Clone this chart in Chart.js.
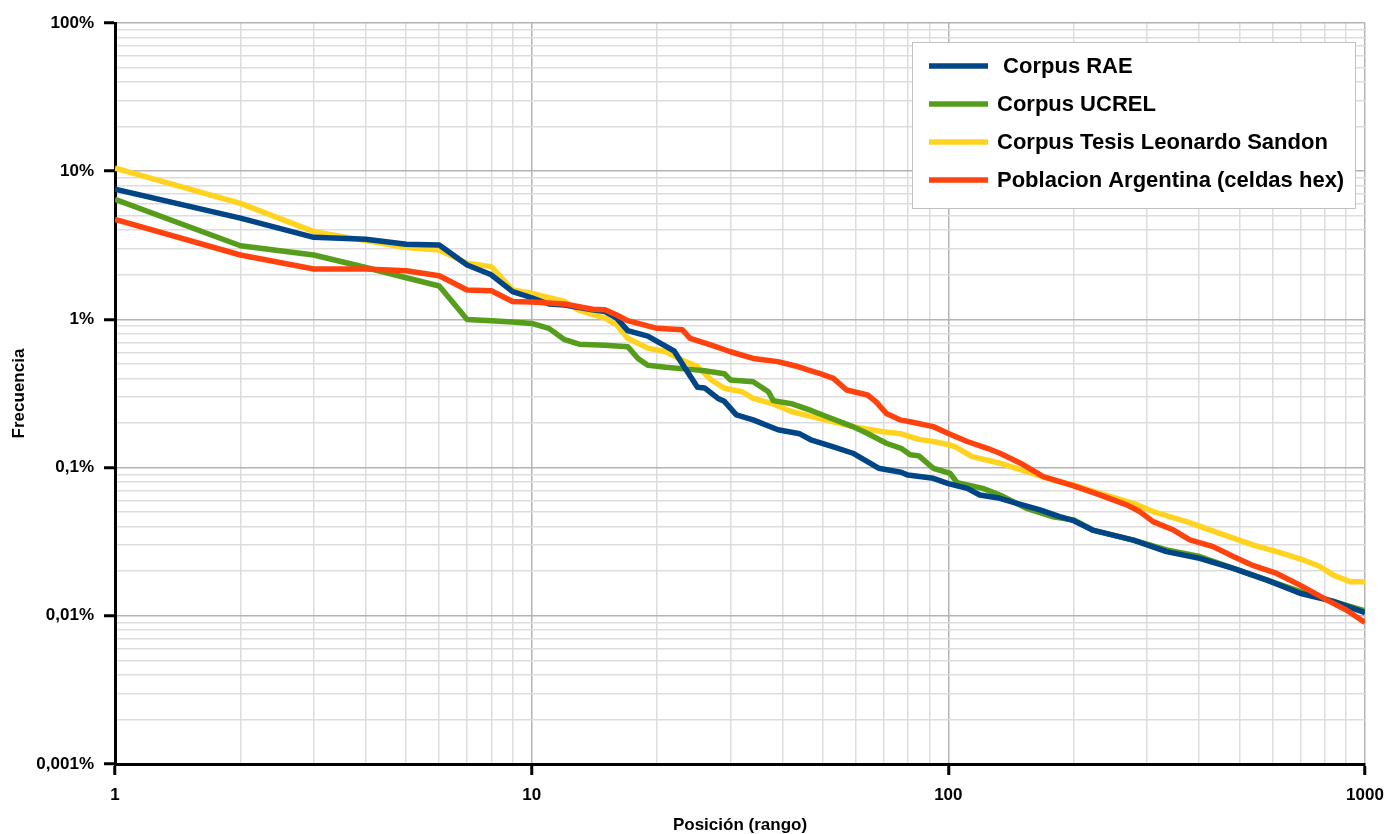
<!DOCTYPE html>
<html>
<head>
<meta charset="utf-8">
<script src="https://cdn.jsdelivr.net/npm/chart.js@4"></script>
<style>
  body { margin: 0; background: #fff; }
  canvas { display: block; }
</style>
</head>
<body>
<canvas id="grafico" width="1386" height="834"></canvas>
<script>
// series labels and colours (legend order)
const etiquetas = [' Corpus RAE', 'Corpus UCREL', 'Corpus Tesis Leonardo Sandon', 'Poblacion Argentina (celdas hex)'];
const colores = ['#004586', '#579d1c', '#ffd320', '#ff420e'];

// ticks
const xMajor = [1, 10, 100, 1000];
const xTickLabels = ['1', '10', '100', '1000'];
const yMajor = [0.001, 0.01, 0.1, 1, 10, 100];
const yTickLabels = ['0,001%', '0,01%', '0,1%', '1%', '10%', '100%'];

// Corpus RAE
const raeRango = [1, 2, 3, 4, 5, 6, 7, 8, 9, 10, 11, 12, 14, 15, 16, 17, 19, 20, 22, 23, 25, 26, 28, 29, 31, 34, 39, 44, 47, 53, 59, 68, 77, 80, 92, 100, 111, 119, 133, 146, 166, 185, 200, 222, 278, 334, 401, 483, 582, 698, 839, 1000];
const raeFrec = [7.55, 4.82, 3.58, 3.47, 3.21, 3.18, 2.33, 2.0, 1.54, 1.40, 1.27, 1.25, 1.16, 1.13, 1.02, 0.84, 0.77, 0.71, 0.61, 0.50, 0.348, 0.345, 0.293, 0.28, 0.227, 0.21, 0.18, 0.169, 0.153, 0.138, 0.125, 0.099, 0.093, 0.089, 0.0847, 0.078, 0.0724, 0.0653, 0.0621, 0.0574, 0.0518, 0.0467, 0.0438, 0.0379, 0.0324, 0.0271, 0.0244, 0.0209, 0.0174, 0.0142, 0.0125, 0.0105];

// Corpus UCREL
const ucrelRango = [1, 2, 3, 4, 5, 6, 7, 8, 9, 10, 11, 12, 13, 15, 17, 18, 19, 21, 24, 26, 29, 30, 34, 37, 38, 42, 47, 51, 59, 64, 71, 77, 81, 85, 92, 101, 105, 121, 133, 154, 178, 200, 222, 278, 334, 401, 483, 582, 698, 839, 1000];
const ucrelFrec = [6.46, 3.14, 2.72, 2.24, 1.91, 1.68, 1.00, 0.98, 0.96, 0.94, 0.87, 0.73, 0.68, 0.67, 0.655, 0.545, 0.49, 0.475, 0.46, 0.45, 0.43, 0.39, 0.38, 0.325, 0.283, 0.27, 0.242, 0.221, 0.189, 0.170, 0.146, 0.135, 0.122, 0.12, 0.099, 0.0914, 0.079, 0.0724, 0.0653, 0.0531, 0.0466, 0.0443, 0.0379, 0.0324, 0.0278, 0.0251, 0.0209, 0.0174, 0.0146, 0.0125, 0.0108];

// Corpus Tesis Leonardo Sandon
const tesisRango = [1, 2, 3, 4, 5, 6, 7, 8, 9, 10, 12, 13, 15, 16, 17, 19, 21, 23, 25, 27, 29, 32, 34, 38, 42, 49, 59, 69, 77, 85, 92, 101, 104, 114, 133, 154, 178, 200, 231, 278, 310, 373, 448, 540, 614, 711, 780, 839, 920, 1000];
const tesisFrec = [10.5, 6.07, 3.91, 3.40, 3.06, 2.94, 2.39, 2.27, 1.58, 1.50, 1.32, 1.15, 1.02, 0.917, 0.745, 0.64, 0.605, 0.53, 0.48, 0.39, 0.343, 0.325, 0.293, 0.269, 0.239, 0.215, 0.189, 0.175, 0.169, 0.155, 0.150, 0.142, 0.138, 0.1185, 0.107, 0.094, 0.0825, 0.0763, 0.067, 0.0574, 0.0505, 0.0432, 0.036, 0.030, 0.0271, 0.0238, 0.0215, 0.0188, 0.017, 0.017];

// Poblacion Argentina (celdas hex)
const pobRango = [1, 2, 3, 4, 5, 6, 7, 8, 9, 10, 12, 14, 15, 16, 17, 20, 23, 24, 27, 30, 34, 39, 43, 46, 49, 53, 57, 64, 67, 71, 77, 81, 92, 100, 111, 124, 133, 149, 169, 200, 231, 268, 288, 310, 347, 380, 432, 483, 540, 614, 698, 809, 904, 1000];
const pobFrec = [4.73, 2.72, 2.19, 2.19, 2.13, 1.97, 1.58, 1.56, 1.32, 1.31, 1.27, 1.17, 1.16, 1.07, 0.98, 0.87, 0.85, 0.745, 0.67, 0.605, 0.545, 0.519, 0.485, 0.456, 0.433, 0.40, 0.334, 0.309, 0.279, 0.232, 0.209, 0.204, 0.189, 0.170, 0.150, 0.135, 0.125, 0.107, 0.0869, 0.0752, 0.0654, 0.056, 0.0505, 0.0432, 0.0379, 0.0325, 0.0293, 0.0251, 0.0218, 0.0193, 0.0161, 0.0128, 0.0109, 0.0090];

const series = [
  [raeRango, raeFrec],
  [ucrelRango, ucrelFrec],
  [tesisRango, tesisFrec],
  [pobRango, pobFrec]
];
// drawing order: red on top, then blue
const orden = [1, 2, 3, 0];

const fuente = "'Liberation Sans', Arial, sans-serif";

const esMayor = (v) => Math.abs(Math.log10(v) - Math.round(Math.log10(v))) < 1e-9;

function marcasLog(min, max) {
  const out = [];
  for (let e = Math.round(Math.log10(min)); e < Math.round(Math.log10(max)); e++) {
    for (let s = 1; s < 10; s++) out.push(Number((s * Math.pow(10, e)).toPrecision(6)));
  }
  out.push(max);
  return out.map(v => ({ value: v, major: esMayor(v) }));
}

const rejilla = {
  color: (c) => (c.tick && c.tick.major ? '#b3b3b3' : '#dddddd'),
  lineWidth: 1.5,
  tickColor: (c) => (c.tick && c.tick.major ? '#000000' : 'rgba(0,0,0,0)'),
  tickWidth: 3,
  tickLength: 11
};

// legend drawn inside the plot, like the original
const leyendaPlugin = {
  id: 'leyendaCaja',
  afterDraw(chart) {
    const ctx = chart.ctx;
    const x0 = 912.5, y0 = 42.5, w = 443, h = 166;
    ctx.save();
    ctx.fillStyle = '#ffffff';
    ctx.fillRect(x0, y0, w, h);
    ctx.strokeStyle = '#c0c0c0';
    ctx.lineWidth = 1;
    ctx.strokeRect(x0, y0, w, h);
    const filas = [66, 104, 142, 180];
    ctx.font = 'bold 22px ' + fuente;
    ctx.textBaseline = 'middle';
    ctx.textAlign = 'left';
    etiquetas.forEach((et, i) => {
      ctx.strokeStyle = colores[i];
      ctx.lineWidth = 5.5;
      ctx.beginPath();
      ctx.moveTo(929, filas[i]);
      ctx.lineTo(988, filas[i]);
      ctx.stroke();
      ctx.fillStyle = '#000000';
      ctx.fillText(et, 997, filas[i] + 1);
    });
    ctx.restore();
  }
};

const config = {
  type: 'line',
  data: {
    datasets: series.map((s, i) => ({
      label: etiquetas[i],
      data: s[0].map((r, k) => ({ x: r, y: s[1][k] })),
      borderColor: colores[i],
      backgroundColor: colores[i],
      borderWidth: 5.5,
      pointRadius: 0,
      tension: 0,
      borderJoinStyle: 'round',
      fill: false,
      order: orden[i]
    }))
  },
  options: {
    responsive: false,
    animation: false,
    devicePixelRatio: 1,
    layout: { padding: { left: 0, right: 21, top: 23, bottom: 0 } },
    plugins: {
      legend: { display: false },
      tooltip: { enabled: false }
    },
    scales: {
      x: {
        type: 'logarithmic',
        min: 1,
        max: 1000,
        afterBuildTicks: (scale) => { scale.ticks = marcasLog(1, 1000); },
        afterFit: (scale) => {
          scale.height = 70;
          scale.paddingLeft = 0;
          scale.paddingRight = 0;
        },
        grid: rejilla,
        border: { color: '#000000', width: 3 },
        ticks: {
          autoSkip: false,
          maxRotation: 0,
          padding: 10,
          color: '#000000',
          font: { family: fuente, size: 17, weight: 'bold' },
          callback: (v) => {
            const i = xMajor.findIndex(m => Math.abs(m - v) < 1e-9);
            return i >= 0 ? xTickLabels[i] : '';
          }
        },
        title: {
          display: true,
          text: 'Posición (rango)',
          color: '#000000',
          font: { family: fuente, size: 17, weight: 'bold' },
          padding: { top: 0, bottom: -2 }
        }
      },
      y: {
        type: 'logarithmic',
        min: 0.001,
        max: 100,
        afterBuildTicks: (scale) => { scale.ticks = marcasLog(0.001, 100); },
        afterFit: (scale) => {
          scale.width = 115;
          scale.paddingTop = 0;
          scale.paddingBottom = 0;
        },
        grid: rejilla,
        border: { color: '#000000', width: 3 },
        ticks: {
          autoSkip: false,
          padding: 10,
          color: '#000000',
          font: { family: fuente, size: 17, weight: 'bold' },
          callback: (v) => {
            const i = yMajor.findIndex(m => Math.abs(Math.log10(m) - Math.log10(v)) < 1e-9);
            return i >= 0 ? yTickLabels[i] : '';
          }
        },
        title: {
          display: true,
          text: 'Frecuencia',
          color: '#000000',
          font: { family: fuente, size: 17, weight: 'bold' },
          padding: { top: 9, bottom: 0 }
        }
      }
    }
  },
  plugins: [leyendaPlugin]
};

const grafico = new Chart(document.getElementById('grafico'), config);
</script>
</body>
</html>
